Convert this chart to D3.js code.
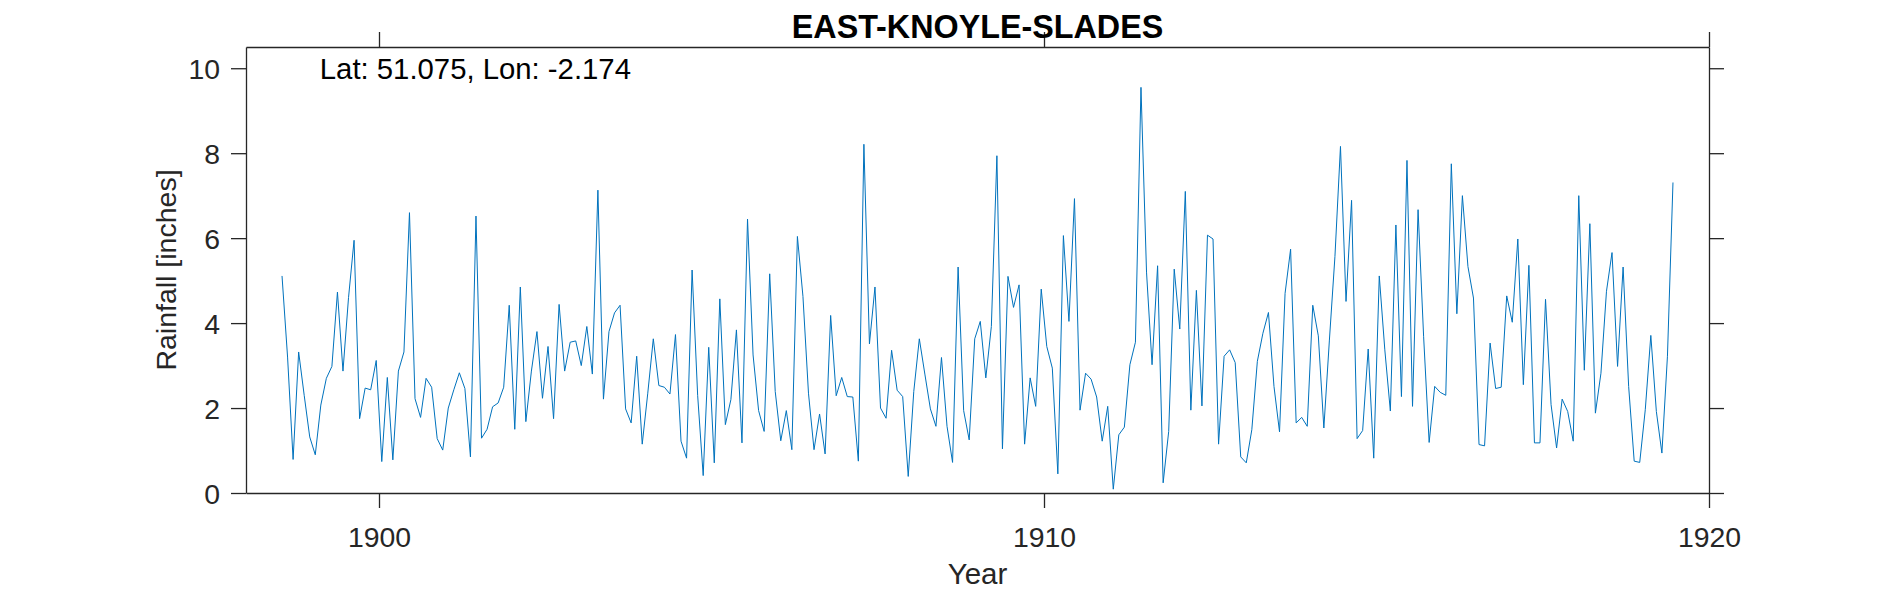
<!DOCTYPE html>
<html>
<head>
<meta charset="utf-8">
<script src="https://cdn.jsdelivr.net/npm/d3@7"></script>
<style>
    html, body { margin: 0; padding: 0; background: #fff; }
    svg { display: block; font-family: "Liberation Sans", Arial, sans-serif; }
    .tick text { font-size: 28.4px; fill: #262626; font-family: "Liberation Sans", Arial, sans-serif; }
    .axis path, .axis line { stroke: #262626; stroke-width: 1.3; }
</style>
</head>
<body>
<div id="chart"></div>
<script>
const stationName = 'EAST-KNOYLE-SLADES';
const locationLabel = 'Lat: 51.075, Lon: -2.174';
const xTicks = [1900, 1910, 1920];
const yTicks = [0, 2, 4, 6, 8, 10];
const firstMonth = { year: 1898, month: 7 };

// Monthly totals, July 1898 to June 1919
const rainfall = [
    5.11, 3.2, 0.79, 3.32, 2.3, 1.32, 0.9, 2.07, 2.7, 2.98, 4.73, 2.87,
    4.6, 5.95, 1.75, 2.47, 2.43, 3.12, 0.74, 2.72, 0.78, 2.87, 3.32, 6.6,
    2.22, 1.78, 2.7, 2.49, 1.28, 1.01, 2.0, 2.43, 2.83, 2.46, 0.85, 6.52,
    1.29, 1.5, 2.03, 2.12, 2.49, 4.42, 1.5, 4.85, 1.68, 2.87, 3.8, 2.23,
    3.45, 1.75, 4.44, 2.87, 3.55, 3.58, 3.0, 3.92, 2.8, 7.13, 2.21, 3.8,
    4.24, 4.42, 1.98, 1.65, 3.22, 1.15, 2.35, 3.63, 2.53, 2.49, 2.33, 3.73,
    1.22, 0.82, 5.25, 2.3, 0.41, 3.43, 0.71, 4.57, 1.61, 2.2, 3.84, 1.18,
    6.45, 3.25, 1.94, 1.45, 5.16, 2.39, 1.23, 1.94, 1.02, 6.04, 4.63, 2.35,
    1.02, 1.86, 0.92, 4.18, 2.29, 2.72, 2.27, 2.26, 0.75, 8.21, 3.51, 4.85,
    2.0, 1.76, 3.36, 2.42, 2.27, 0.39, 2.39, 3.63, 2.8, 1.98, 1.57, 3.19,
    1.57, 0.72, 5.32, 1.94, 1.25, 3.63, 4.04, 2.71, 3.92, 7.94, 1.04, 5.1,
    4.37, 4.9, 1.15, 2.71, 2.04, 4.8, 3.45, 2.94, 0.45, 6.06, 4.04, 6.93,
    1.95, 2.82, 2.68, 2.26, 1.22, 2.04, 0.09, 1.37, 1.55, 3.02, 3.55, 9.55,
    5.2, 3.02, 5.35, 0.24, 1.45, 5.27, 3.86, 7.1, 1.95, 4.77, 2.05, 6.07,
    5.98, 1.15, 3.22, 3.37, 3.07, 0.85, 0.71, 1.49, 3.1, 3.76, 4.25, 2.51,
    1.44, 4.7, 5.74, 1.65, 1.78, 1.57, 4.42, 3.7, 1.53, 3.6, 5.57, 8.16,
    4.51, 6.89, 1.28, 1.47, 3.39, 0.82, 5.11, 3.37, 1.93, 6.31, 2.27, 7.83,
    2.04, 6.67, 3.69, 1.19, 2.51, 2.37, 2.3, 7.75, 4.22, 7.0, 5.33, 4.59,
    1.14, 1.11, 3.53, 2.46, 2.49, 4.64, 4.02, 5.98, 2.55, 5.36, 1.18, 1.18,
    4.56, 2.08, 1.06, 2.21, 1.92, 1.22, 7.0, 2.89, 6.34, 1.88, 2.82, 4.75,
    5.66, 2.98, 5.32, 2.51, 0.75, 0.72, 1.96, 3.71, 1.92, 0.94, 3.22, 7.31
];

const width = 1890;
const height = 591;
const margin = { top: 47, right: 181, bottom: 98, left: 246 };
const innerW = width - margin.left - margin.right;
const innerH = height - margin.top - margin.bottom;
const tickLen = 15;

const svg = d3.select('#chart').append('svg')
    .attr('width', width)
    .attr('height', height);

const g = svg.append('g')
    .attr('transform', `translate(${margin.left},${margin.top})`);

const x = d3.scaleLinear().domain([1898, 1920]).range([0, innerW]);
const y = d3.scaleLinear().domain([0, 10.5]).range([innerH, 0]);

// mid-month position in decimal years
const monthX = i => firstMonth.year + (firstMonth.month - 1 + i + 0.5) / 12;

const line = d3.line()
    .x((d, i) => x(monthX(i)))
    .y(d => y(d));

g.append('path')
    .datum(rainfall)
    .attr('fill', 'none')
    .attr('stroke', '#0072BD')
    .attr('stroke-width', 1)
    .attr('d', line);

// Box: ticks point outward on all four sides
const axes = [
    { axis: d3.axisBottom(x).tickValues(xTicks).tickFormat(d3.format('d')).tickPadding(19), at: [0, innerH] },
    { axis: d3.axisTop(x).tickValues(xTicks).tickFormat(''), at: [0, 0] },
    { axis: d3.axisLeft(y).tickValues(yTicks).tickPadding(11), at: [0, 0], dy: '0.37em' },
    { axis: d3.axisRight(y).tickValues(yTicks).tickFormat(''), at: [innerW, 0] }
];

axes.forEach(a => {
    const sel = g.append('g')
        .attr('class', 'axis')
        .attr('transform', `translate(${a.at[0]},${a.at[1]})`)
        .call(a.axis.tickSizeInner(tickLen).tickSizeOuter(0));
    if (a.dy) sel.selectAll('.tick text').attr('dy', a.dy);
});

svg.append('text')
    .attr('x', margin.left + innerW / 2)
    .attr('y', 38)
    .attr('text-anchor', 'middle')
    .attr('font-size', 32.3)
    .attr('font-weight', 'bold')
    .attr('fill', '#000')
    .text(stationName);

svg.append('text')
    .attr('x', margin.left + innerW / 2)
    .attr('y', 584)
    .attr('text-anchor', 'middle')
    .attr('font-size', 29.5)
    .attr('fill', '#262626')
    .text('Year');

svg.append('text')
    .attr('transform', `translate(176,${margin.top + innerH / 2}) rotate(-90)`)
    .attr('text-anchor', 'middle')
    .attr('font-size', 28.5)
    .attr('fill', '#262626')
    .text('Rainfall [inches]');

g.append('text')
    .attr('x', x(1899.11))
    .attr('y', y(9.75))
    .attr('font-size', 29.3)
    .attr('fill', '#000')
    .text(locationLabel);
</script>
</body>
</html>
